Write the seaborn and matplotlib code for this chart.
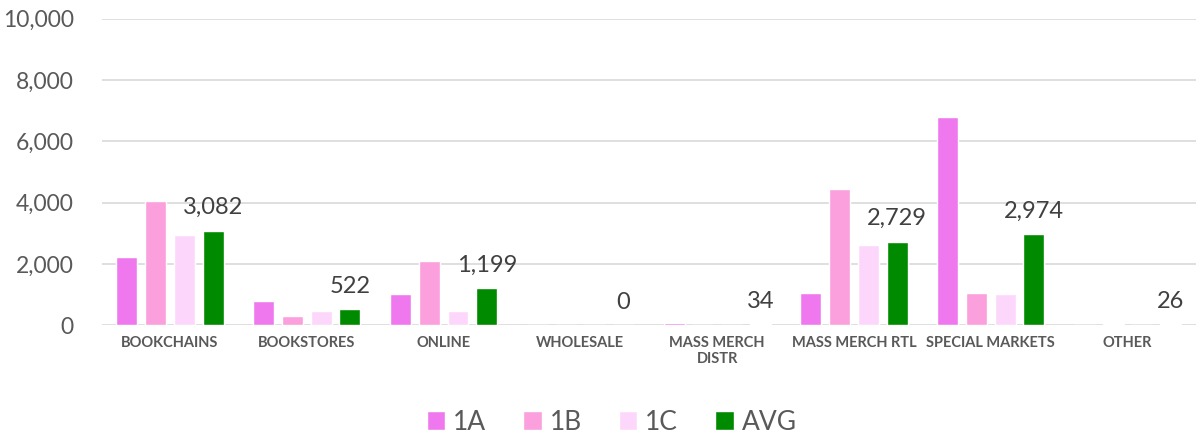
import pandas as pd
import seaborn as sns
import matplotlib.pyplot as plt

# channels and series values
channels = ["BOOKCHAINS", "BOOKSTORES", "ONLINE", "WHOLESALE",
            "MASS MERCH\nDISTR", "MASS MERCH RTL", "SPECIAL MARKETS", "OTHER"]
series = ["1A", "1B", "1C", "AVG"]
vals_1a = [2220, 780, 1020, 0, 80, 1060, 6800, 20]
vals_1b = [4050, 290, 2090, 0, 12, 4450, 1060, 40]
vals_1c = [2940, 460, 460, 0, 10, 2620, 1010, 14]
vals_avg = [3082, 522, 1199, 0, 34, 2729, 2974, 26]
colors = ["#F078EE", "#FBA0DC", "#FDD6FB", "#008A00"]

df = pd.DataFrame({
    "channel": channels * 4,
    "series": [s for s in series for _ in channels],
    "value": vals_1a + vals_1b + vals_1c + vals_avg,
})

sns.set_style("white")
plt.rcParams["font.family"] = ["Lato", "DejaVu Sans"]

fig = plt.figure(figsize=(11.96, 4.37), dpi=100)
ax = fig.add_axes([0.085, 0.256, 0.915, 0.701])

sns.barplot(data=df, x="channel", y="value", hue="series", palette=colors,
            width=0.84, gap=0.27, ax=ax, saturation=1, legend=True)

# label only the AVG bars
ax.bar_label(ax.containers[3], labels=[f"{v:,}" for v in vals_avg],
             padding=9, fontsize=17, color="#404040")

ax.set_ylim(0, 10000)
ax.set_yticks(range(0, 10001, 2000))
ax.yaxis.set_major_formatter(plt.FuncFormatter(lambda v, p: f"{int(v):,}"))
ax.grid(axis="y", color="#D9D9D9", linewidth=1.2)
ax.set_axisbelow(True)
for s in ax.spines.values():
    s.set_visible(False)
ax.tick_params(axis="y", labelsize=16.5, labelcolor="#595959", length=0, pad=20)
ax.tick_params(axis="x", labelsize=10.5, labelcolor="#595959", length=0, pad=8)
for t in ax.get_xticklabels():
    t.set_fontweight("bold")
ax.set_xlabel("")
ax.set_ylabel("")
ax.set_xlim(-0.5, 7.5)

ax.legend(loc="center", bbox_to_anchor=(0.466, -0.317), ncol=4,
          frameon=False, fontsize=19, handlelength=0.7, handleheight=0.7,
          handletextpad=0.3, columnspacing=1.4, labelcolor="#595959")

plt.savefig("out.png", dpi=100)
